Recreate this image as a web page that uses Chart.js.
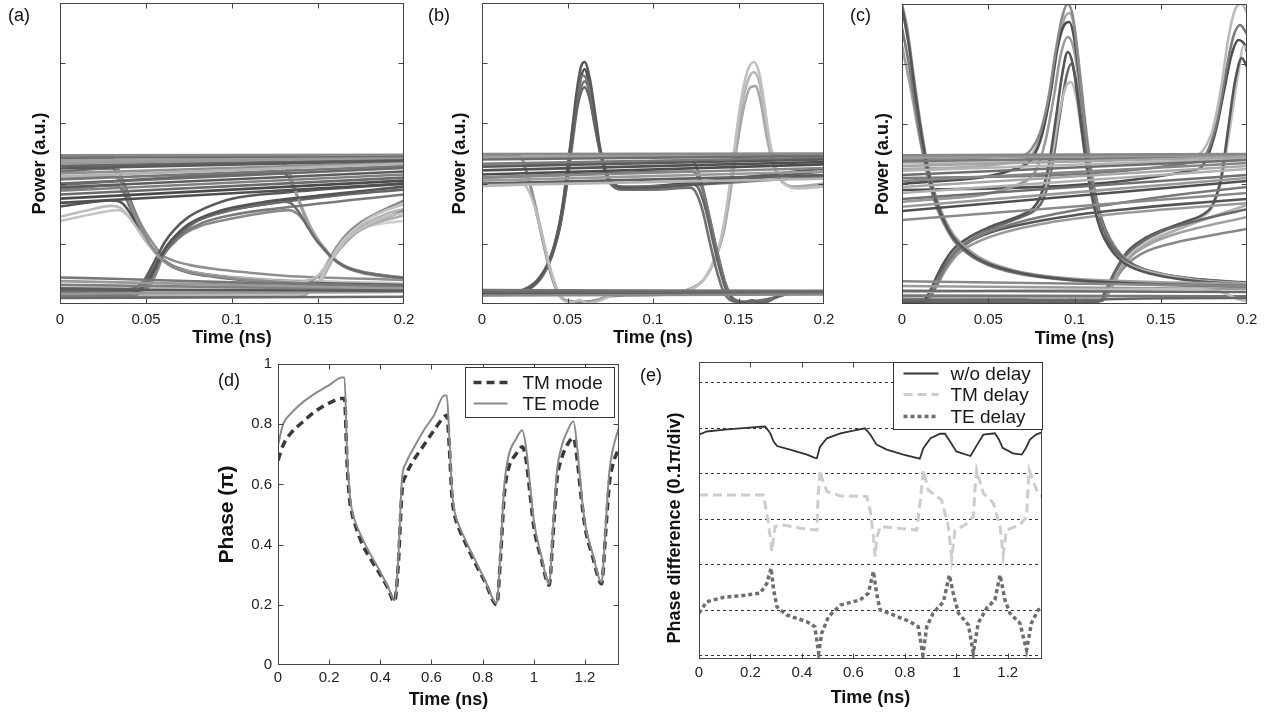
<!DOCTYPE html>
<html><head><meta charset="utf-8">
<script src="https://cdn.jsdelivr.net/npm/chart.js@4.4.0/dist/chart.umd.min.js"></script>
<style>
body{margin:0;background:#fff;width:1270px;height:716px;overflow:hidden;position:relative;font-family:"Liberation Sans",Arial,sans-serif}
canvas{position:absolute;left:0;top:0}
.lbl{position:absolute;font-size:18px;color:#111;line-height:20px}
</style></head><body>
<canvas id="cA" width="1270" height="716"></canvas>
<canvas id="cB" width="1270" height="716"></canvas>
<canvas id="cC" width="1270" height="716"></canvas>
<canvas id="cD" width="1270" height="716"></canvas>
<canvas id="cE" width="1270" height="716"></canvas>
<div class="lbl" style="left:8px;top:5px">(a)</div>
<div class="lbl" style="left:428px;top:5px">(b)</div>
<div class="lbl" style="left:850px;top:5px">(c)</div>
<div class="lbl" style="left:218px;top:370px">(d)</div>
<div class="lbl" style="left:640px;top:365px">(e)</div>
<script>
// ---------------- tick labels ----------------
const eyeTimeTicks = [0, 0.05, 0.1, 0.15, 0.2];
const eyePowerTicks = [1, 2, 3, 4];
const phaseTimeTicks = [0, 0.2, 0.4, 0.6, 0.8, 1, 1.2];
const phaseTicks = [0, 0.2, 0.4, 0.6, 0.8, 1];
const diffGridLines = [0, 1, 2, 3, 4, 5, 6];

// ---------------- (a) eye diagram traces [time ns, power a.u.] ----------------
const a01 = [[0,2.47],[0.2,2.48]];
const a02 = [[0,2.43],[0.2,2.46]];
const a03 = [[0,2.34],[0.2,2.43]];
const a04 = [[0,2.25],[0.2,2.38]];
const a05 = [[0,2.12],[0.2,2.33]];
const a06 = [[0,2.0],[0.2,2.26]];
const a07 = [[0,1.75],[0.2,2.05]];
const a08 = [[0,1.88],[0.2,2.15]];
const a09 = [[0,2.47],[0.027,2.47],[0.031,2.4],[0.035,2.15],[0.04,1.75],[0.045,1.38],[0.05,1.1],[0.054,0.92],[0.058,0.78],[0.065,0.63],[0.075,0.53],[0.09,0.46],[0.11,0.4],[0.13,0.36],[0.16,0.32],[0.2,0.29]];
const a10 = [[0,1.45],[0.015,1.55],[0.03,1.63],[0.035,1.6],[0.04,1.45],[0.045,1.25],[0.05,1.04],[0.054,0.9],[0.058,0.77],[0.065,0.63],[0.075,0.54],[0.09,0.47],[0.11,0.42],[0.13,0.38],[0.14,0.37],[0.145,0.4],[0.15,0.47],[0.155,0.62],[0.16,0.84],[0.165,1.02],[0.17,1.16],[0.18,1.33],[0.19,1.45],[0.2,1.52]];
const a11 = [[0,2.2],[0.03,2.25],[0.034,2.18],[0.038,1.95],[0.043,1.55],[0.048,1.2],[0.053,0.95],[0.058,0.77],[0.065,0.62],[0.075,0.52],[0.09,0.45],[0.11,0.39],[0.13,0.35],[0.2,0.28]];
const a12 = [[0,1.62],[0.03,1.72],[0.036,1.68],[0.041,1.5],[0.046,1.25],[0.051,1.02],[0.055,0.88],[0.058,0.78],[0.065,0.64],[0.075,0.54],[0.09,0.47],[0.11,0.41],[0.13,0.37],[0.2,0.31]];
const a13 = [[0,0.17],[0.04,0.17],[0.045,0.21],[0.05,0.33],[0.054,0.52],[0.058,0.76],[0.062,0.96],[0.067,1.13],[0.075,1.33],[0.085,1.47],[0.1,1.6],[0.12,1.7],[0.14,1.77],[0.17,1.86],[0.2,1.95]];
const a14 = [[0,0.2],[0.041,0.2],[0.046,0.25],[0.051,0.38],[0.055,0.58],[0.059,0.8],[0.064,0.99],[0.07,1.17],[0.08,1.38],[0.1,1.56],[0.12,1.66],[0.13,1.7],[0.134,1.68],[0.139,1.52],[0.144,1.28],[0.149,1.06],[0.154,0.9],[0.158,0.77],[0.165,0.63],[0.175,0.53],[0.19,0.46],[0.2,0.43]];
const a15 = [[0,0.14],[0.042,0.14],[0.047,0.2],[0.052,0.36],[0.056,0.58],[0.06,0.82],[0.065,1.0],[0.072,1.18],[0.082,1.34],[0.1,1.48],[0.13,1.6],[0.2,1.82]];
const a16 = [[0,2.45],[0.125,2.47],[0.129,2.42],[0.133,2.2],[0.138,1.8],[0.143,1.4],[0.148,1.12],[0.153,0.92],[0.158,0.77],[0.165,0.62],[0.175,0.52],[0.19,0.45],[0.2,0.42]];
const a17 = [[0,0.16],[0.14,0.16],[0.145,0.21],[0.15,0.34],[0.154,0.55],[0.158,0.77],[0.162,0.96],[0.167,1.13],[0.175,1.33],[0.185,1.5],[0.2,1.66]];
const a18 = [[0,0.22],[0.142,0.2],[0.147,0.26],[0.152,0.4],[0.156,0.6],[0.16,0.82],[0.165,1.0],[0.172,1.18],[0.182,1.33],[0.2,1.47]];
const a19 = [[0,0.13],[0.139,0.13],[0.144,0.18],[0.149,0.3],[0.153,0.5],[0.157,0.74],[0.161,0.95],[0.166,1.14],[0.175,1.36],[0.185,1.52],[0.2,1.72]];
const a20 = [[0,0.44],[0.03,0.42],[0.1,0.36],[0.2,0.3]];
const a21 = [[0,0.24],[0.2,0.22]];
const a22 = [[0,0.1],[0.2,0.12]];
const a23 = [[0,0.38],[0.2,0.26]];
const a24 = [[0,2.45],[0.2,2.47]];
const a25 = [[0,2.38],[0.2,2.44]];
const a26 = [[0,2.29],[0.2,2.4]];
const a27 = [[0,2.17],[0.2,2.35]];
const a28 = [[0,2.07],[0.2,2.29]];
const a29 = [[0,1.94],[0.2,2.2]];
const a30 = [[0,1.82],[0.2,2.1]];
const a31 = [[0,1.68],[0.2,2.0]];
const a32 = [[0,2.4],[0.029,2.42],[0.033,2.3],[0.037,2.02],[0.042,1.62],[0.047,1.27],[0.052,1.0],[0.056,0.85],[0.059,0.76],[0.066,0.62],[0.076,0.52],[0.09,0.46],[0.11,0.41],[0.13,0.37],[0.2,0.32]];
const a33 = [[0,1.9],[0.032,1.97],[0.036,1.9],[0.04,1.65],[0.045,1.32],[0.05,1.06],[0.055,0.88],[0.058,0.78],[0.065,0.63],[0.075,0.54],[0.09,0.47],[0.11,0.42],[0.13,0.38],[0.14,0.37],[0.145,0.39],[0.15,0.46],[0.155,0.6],[0.16,0.82],[0.166,1.02],[0.173,1.2],[0.185,1.38],[0.2,1.55]];
const a34 = [[0,1.38],[0.02,1.5],[0.034,1.56],[0.039,1.48],[0.044,1.3],[0.049,1.08],[0.054,0.9],[0.058,0.77],[0.065,0.64],[0.075,0.55],[0.09,0.48],[0.12,0.41],[0.2,0.34]];
const a35 = [[0,0.26],[0.04,0.25],[0.045,0.29],[0.05,0.4],[0.054,0.57],[0.058,0.78],[0.063,0.98],[0.069,1.16],[0.078,1.36],[0.09,1.5],[0.11,1.62],[0.13,1.7],[0.16,1.8],[0.2,1.9]];
const a36 = [[0,0.12],[0.043,0.12],[0.048,0.18],[0.053,0.34],[0.057,0.58],[0.06,0.8],[0.065,0.98],[0.072,1.16],[0.082,1.3],[0.1,1.42],[0.12,1.52],[0.133,1.56],[0.138,1.5],[0.143,1.34],[0.148,1.12],[0.153,0.93],[0.158,0.78],[0.165,0.64],[0.175,0.54],[0.19,0.47],[0.2,0.44]];
const a37 = [[0,2.3],[0.127,2.36],[0.131,2.28],[0.135,2.02],[0.14,1.65],[0.145,1.32],[0.15,1.07],[0.155,0.89],[0.158,0.78],[0.165,0.63],[0.175,0.53],[0.19,0.46],[0.2,0.43]];
const a38 = [[0,1.98],[0.129,2.18],[0.133,2.1],[0.137,1.85],[0.142,1.5],[0.147,1.2],[0.152,0.97],[0.157,0.8],[0.165,0.63],[0.175,0.54],[0.19,0.47],[0.2,0.44]];
const a39 = [[0,0.19],[0.141,0.18],[0.146,0.24],[0.151,0.38],[0.155,0.58],[0.159,0.8],[0.163,0.98],[0.169,1.16],[0.178,1.34],[0.19,1.5],[0.2,1.58]];
const a40 = [[0,0.28],[0.138,0.27],[0.143,0.3],[0.148,0.4],[0.153,0.58],[0.157,0.78],[0.161,0.96],[0.167,1.12],[0.176,1.26],[0.188,1.34],[0.2,1.38]];
const a41 = [[0,0.32],[0.2,0.24]];
const a42 = [[0,0.17],[0.2,0.2]];
const a43 = [[0,0.22],[0.039,0.22],[0.044,0.27],[0.049,0.4],[0.053,0.6],[0.057,0.82],[0.061,1.03],[0.066,1.22],[0.074,1.43],[0.085,1.6],[0.1,1.75],[0.13,1.85],[0.2,2.0]];
const a44 = [[0,2.1],[0.03,2.13],[0.035,2.05],[0.04,1.78],[0.045,1.45],[0.05,1.18],[0.055,0.97],[0.059,0.82],[0.066,0.72],[0.075,0.65],[0.09,0.58],[0.11,0.52],[0.13,0.47],[0.2,0.4]];
const eyeA = [a01,a02,a03,a04,a05,a06,a07,a08,a24,a25,a26,a27,a28,a29,a30,a31,a20,a21,a22,a23,a41,a42,a09,a10,a11,a12,a13,a14,a15,a16,a17,a18,a19,a32,a33,a34,a35,a36,a37,a38,a39,a40,a43,a44];
const eyeAShade = ['#8a8a8a','#6e6e6e','#9a9a9a','#5a5a5a','#b4b4b4','#6a6a6a','#4a4a4a','#808080','#7c7c7c','#a0a0a0','#666666','#909090','#777777','#5c5c5c','#6a6a6a','#505050','#777777','#5a5a5a','#6a6a6a','#999999','#808080','#9a9a9a','#8c8c8c','#bdbdbd','#6f6f6f','#555555','#555555','#6c6c6c','#7a7a7a','#9d9d9d','#c2c2c2','#adadad','#888888','#9a9a9a','#777777','#c4c4c4','#666666','#8a8a8a','#aaaaaa','#6e6e6e','#b5b5b5','#cfcfcf','#5a5a5a','#8f8f8f'];

// ---------------- (b) eye diagram traces ----------------
const b01 = [[0,2.49],[0.2,2.5]];
const b02 = [[0,2.4],[0.2,2.46]];
const b03 = [[0,2.28],[0.2,2.4]];
const b04 = [[0,2.15],[0.2,2.32]];
const b05 = [[0,2.05],[0.2,2.2]];
const b06 = [[0,1.97],[0.2,2.08]];
const b07 = [[0,1.96],[0.024,1.98],[0.027,1.9],[0.031,1.6],[0.035,1.15],[0.039,0.68],[0.043,0.3],[0.047,0.08],[0.052,0.03],[0.057,0.06],[0.062,0.02],[0.068,0.05],[0.074,0.12],[0.08,0.17],[0.2,0.19]];
const b08 = [[0,2.45],[0.021,2.47],[0.024,2.38],[0.028,2.0],[0.032,1.5],[0.036,0.98],[0.04,0.52],[0.044,0.2],[0.048,0.07],[0.055,0.04],[0.065,0.05],[0.075,0.13],[0.2,0.17]];
const b09 = [[0,0.15],[0.015,0.16],[0.025,0.22],[0.033,0.4],[0.039,0.7],[0.044,1.15],[0.048,1.8],[0.052,2.7],[0.055,3.45],[0.058,3.95],[0.06,4.02],[0.063,3.75],[0.066,3.2],[0.069,2.6],[0.073,2.15],[0.078,1.98],[0.085,1.93],[0.2,2.2]];
const b10 = [[0,0.18],[0.015,0.19],[0.025,0.25],[0.033,0.42],[0.04,0.75],[0.045,1.2],[0.049,1.85],[0.053,2.7],[0.056,3.3],[0.06,3.6],[0.063,3.4],[0.066,2.95],[0.07,2.4],[0.074,2.05],[0.08,1.92],[0.1,1.93],[0.124,1.98],[0.127,1.9],[0.131,1.55],[0.135,1.05],[0.139,0.58],[0.143,0.22],[0.147,0.07],[0.153,0.03],[0.158,0.06],[0.163,0.02],[0.168,0.05],[0.174,0.14],[0.18,0.18],[0.2,0.19]];
const b11 = [[0,0.2],[0.02,0.21],[0.03,0.3],[0.037,0.55],[0.042,0.95],[0.047,1.6],[0.051,2.5],[0.055,3.3],[0.059,3.8],[0.062,3.65],[0.065,3.15],[0.069,2.55],[0.073,2.12],[0.078,1.96],[0.09,1.95],[0.2,2.12]];
const b12 = [[0,2.3],[0.122,2.38],[0.125,2.3],[0.129,1.95],[0.133,1.45],[0.137,0.92],[0.141,0.45],[0.145,0.15],[0.149,0.05],[0.156,0.03],[0.162,0.05],[0.17,0.1],[0.178,0.17],[0.2,0.18]];
const b13 = [[0,0.17],[0.11,0.18],[0.12,0.22],[0.128,0.35],[0.134,0.62],[0.139,1.0],[0.143,1.6],[0.147,2.45],[0.151,3.3],[0.155,3.85],[0.159,4.02],[0.162,3.85],[0.165,3.35],[0.168,2.75],[0.172,2.25],[0.177,2.0],[0.185,1.92],[0.2,1.95]];
const b14 = [[0,0.19],[0.112,0.2],[0.122,0.26],[0.13,0.42],[0.136,0.72],[0.141,1.15],[0.145,1.8],[0.149,2.6],[0.153,3.25],[0.157,3.6],[0.16,3.62],[0.163,3.35],[0.166,2.85],[0.17,2.35],[0.175,2.05],[0.182,1.95],[0.2,2.0]];
const b15 = [[0,0.2],[0.2,0.2]];
const b16 = [[0,0.14],[0.2,0.16]];
const b17 = [[0,2.44],[0.2,2.48]];
const b18 = [[0,2.33],[0.2,2.43]];
const b19 = [[0,2.22],[0.2,2.36]];
const b20 = [[0,2.1],[0.2,2.26]];
const b21 = [[0,2.0],[0.2,2.14]];
const b22 = [[0,0.17],[0.017,0.18],[0.027,0.24],[0.035,0.45],[0.041,0.8],[0.046,1.35],[0.05,2.1],[0.054,3.05],[0.057,3.65],[0.06,3.9],[0.063,3.6],[0.066,3.05],[0.07,2.45],[0.074,2.08],[0.08,1.94],[0.1,1.96],[0.2,2.25]];
const b23 = [[0,0.16],[0.016,0.17],[0.026,0.23],[0.034,0.43],[0.04,0.76],[0.045,1.25],[0.049,1.95],[0.053,2.85],[0.057,3.5],[0.06,3.7],[0.063,3.5],[0.066,3.0],[0.07,2.42],[0.075,2.02],[0.082,1.9],[0.1,1.9],[0.122,1.93],[0.125,1.86],[0.129,1.55],[0.133,1.05],[0.137,0.58],[0.141,0.22],[0.145,0.07],[0.152,0.03],[0.16,0.05],[0.17,0.1],[0.18,0.17],[0.2,0.18]];
const b24 = [[0,2.3],[0.022,2.33],[0.025,2.25],[0.029,1.9],[0.033,1.42],[0.037,0.92],[0.041,0.48],[0.045,0.17],[0.049,0.06],[0.056,0.03],[0.064,0.05],[0.074,0.12],[0.08,0.17],[0.2,0.18]];
const b25 = [[0,0.18],[0.111,0.19],[0.121,0.24],[0.129,0.38],[0.135,0.67],[0.14,1.08],[0.144,1.7],[0.148,2.55],[0.152,3.3],[0.156,3.75],[0.159,3.85],[0.162,3.7],[0.165,3.25],[0.168,2.7],[0.172,2.22],[0.177,2.0],[0.185,1.94],[0.2,1.97]];
const b26 = [[0,2.1],[0.123,2.2],[0.126,2.12],[0.13,1.8],[0.134,1.32],[0.138,0.82],[0.142,0.38],[0.146,0.12],[0.15,0.05],[0.157,0.03],[0.165,0.05],[0.174,0.13],[0.18,0.17],[0.2,0.18]];
const b27 = [[0,0.23],[0.2,0.22]];
const b28 = [[0,0.17],[0.2,0.19]];
const eyeB = [b01,b02,b03,b04,b05,b06,b17,b18,b19,b20,b21,b15,b16,b27,b28,b07,b08,b24,b09,b10,b11,b22,b23,b12,b26,b13,b14,b25];
const eyeBShade = ['#8a8a8a','#6e6e6e','#5a5a5a','#4d4d4d','#9a9a9a','#b5b5b5','#a0a0a0','#7a7a7a','#505050','#888888','#606060','#6a6a6a','#8a8a8a','#777777','#555555','#bcbcbc','#8d8d8d','#a5a5a5','#5a5a5a','#666666','#777777','#4f4f4f','#727272','#7a7a7a','#6a6a6a','#c0c0c0','#a8a8a8','#b5b5b5'];

// ---------------- (c) eye diagram traces ----------------
const c01 = [[0,4.95],[0.004,4.3],[0.008,3.45],[0.012,2.7],[0.016,2.1],[0.02,1.7],[0.025,1.35],[0.03,1.1],[0.04,0.83],[0.05,0.67],[0.065,0.54],[0.08,0.46],[0.1,0.4],[0.13,0.35],[0.16,0.32],[0.2,0.3]];
const c02 = [[0,4.6],[0.004,4.0],[0.008,3.25],[0.012,2.55],[0.016,2.0],[0.02,1.62],[0.025,1.3],[0.03,1.06],[0.04,0.8],[0.05,0.65],[0.065,0.52],[0.08,0.45],[0.1,0.39],[0.13,0.34],[0.2,0.28]];
const c03 = [[0,4.3],[0.005,3.6],[0.01,2.8],[0.015,2.15],[0.02,1.72],[0.025,1.4],[0.03,1.15],[0.04,0.87],[0.05,0.7],[0.065,0.56],[0.08,0.48],[0.1,0.42],[0.2,0.33]];
const c04 = [[0,0.05],[0.012,0.05],[0.016,0.2],[0.02,0.45],[0.025,0.72],[0.03,0.92],[0.04,1.13],[0.05,1.27],[0.06,1.38],[0.07,1.49],[0.076,1.6],[0.08,1.78],[0.085,2.3],[0.089,3.05],[0.093,3.85],[0.096,4.2],[0.099,4.0],[0.102,3.4],[0.106,2.5],[0.11,1.8],[0.115,1.25],[0.122,0.88],[0.13,0.66],[0.145,0.5],[0.165,0.4],[0.2,0.32]];
const c05 = [[0,0.08],[0.015,0.08],[0.019,0.25],[0.024,0.55],[0.03,0.82],[0.04,1.05],[0.05,1.2],[0.07,1.38],[0.1,1.56],[0.13,1.7],[0.16,1.82],[0.2,1.95]];
const c06 = [[0,0.1],[0.014,0.1],[0.018,0.3],[0.023,0.62],[0.03,0.9],[0.04,1.12],[0.05,1.27],[0.06,1.38],[0.07,1.5],[0.077,1.62],[0.082,1.85],[0.087,2.45],[0.091,3.15],[0.095,3.62],[0.098,3.7],[0.101,3.45],[0.105,2.7],[0.109,1.95],[0.114,1.35],[0.12,0.95],[0.13,0.68],[0.145,0.52],[0.17,0.4],[0.2,0.34]];
const c07 = [[0,2.42],[0.07,2.48],[0.075,2.58],[0.08,2.85],[0.085,3.45],[0.089,4.2],[0.093,4.8],[0.096,5.0],[0.099,4.8],[0.102,4.1],[0.106,3.0],[0.11,2.1],[0.115,1.45],[0.121,1.02],[0.13,0.72],[0.145,0.54],[0.165,0.43],[0.2,0.34]];
const c08 = [[0,2.0],[0.07,2.3],[0.076,2.45],[0.081,2.8],[0.086,3.5],[0.09,4.25],[0.094,4.65],[0.097,4.7],[0.1,4.4],[0.104,3.5],[0.108,2.5],[0.113,1.7],[0.119,1.15],[0.127,0.8],[0.14,0.58],[0.16,0.45],[0.2,0.35]];
const c09 = [[0,1.7],[0.072,2.05],[0.078,2.25],[0.083,2.7],[0.088,3.45],[0.092,4.15],[0.096,4.45],[0.1,4.2],[0.104,3.35],[0.108,2.4],[0.113,1.65],[0.12,1.1],[0.128,0.78],[0.14,0.58],[0.16,0.45],[0.2,0.36]];
const c10 = [[0,2.48],[0.2,2.5]];
const c11 = [[0,2.3],[0.2,2.45]];
const c12 = [[0,2.15],[0.2,2.4]];
const c13 = [[0,1.85],[0.2,2.25]];
const c14 = [[0,1.55],[0.2,2.05]];
const c15 = [[0,1.4],[0.2,1.85]];
const c16 = [[0,0.06],[0.115,0.06],[0.119,0.25],[0.124,0.55],[0.13,0.82],[0.14,1.05],[0.15,1.2],[0.17,1.38],[0.2,1.58]];
const c17 = [[0,0.08],[0.117,0.08],[0.121,0.28],[0.126,0.55],[0.133,0.8],[0.145,1.02],[0.16,1.18],[0.2,1.45]];
const c18 = [[0,0.04],[0.114,0.04],[0.118,0.22],[0.123,0.52],[0.13,0.85],[0.14,1.08],[0.15,1.22],[0.165,1.38],[0.175,1.5],[0.18,1.65],[0.185,2.1],[0.189,2.9],[0.193,3.7],[0.197,4.1],[0.2,3.95]];
const c19 = [[0,2.35],[0.17,2.48],[0.175,2.58],[0.18,2.9],[0.185,3.6],[0.189,4.4],[0.193,4.9],[0.197,5.0],[0.2,4.85]];
const c20 = [[0,2.1],[0.172,2.38],[0.178,2.6],[0.183,3.1],[0.188,3.9],[0.192,4.45],[0.196,4.65],[0.2,4.5]];
const c21 = [[0,0.09],[0.116,0.09],[0.12,0.28],[0.126,0.6],[0.134,0.88],[0.145,1.08],[0.16,1.25],[0.174,1.45],[0.18,1.62],[0.185,2.05],[0.19,2.9],[0.195,3.85],[0.198,4.3],[0.2,4.25]];
const c22 = [[0,0.38],[0.2,0.3]];
const c23 = [[0,0.22],[0.2,0.2]];
const c24 = [[0,0.06],[0.07,0.07],[0.078,0.05],[0.083,0.02],[0.088,0.06],[0.093,0.02],[0.098,0.07],[0.103,0.02],[0.108,0.06],[0.113,0.04],[0.118,0.08],[0.2,0.1]];
const c25 = [[0,0.2],[0.17,0.25],[0.185,0.2],[0.195,0.08],[0.2,0.05]];
const c26 = [[0,2.44],[0.2,2.48]];
const c27 = [[0,2.38],[0.2,2.46]];
const c28 = [[0,2.22],[0.2,2.42]];
const c29 = [[0,2.05],[0.2,2.35]];
const c30 = [[0,1.95],[0.2,2.3]];
const c31 = [[0,1.75],[0.2,2.15]];
const c32 = [[0,1.62],[0.2,2.1]];
const c33 = [[0,0.03],[0.013,0.03],[0.017,0.22],[0.022,0.5],[0.028,0.78],[0.038,1.02],[0.05,1.18],[0.07,1.33],[0.1,1.48],[0.13,1.58],[0.16,1.66],[0.2,1.75]];
const c34 = [[0,0.12],[0.016,0.12],[0.02,0.3],[0.026,0.6],[0.033,0.85],[0.045,1.05],[0.06,1.2],[0.08,1.33],[0.1,1.42],[0.13,1.52],[0.2,1.68]];
const c35 = [[0,2.25],[0.071,2.4],[0.076,2.52],[0.081,2.85],[0.086,3.5],[0.09,4.25],[0.094,4.75],[0.097,4.85],[0.1,4.6],[0.103,3.9],[0.107,2.85],[0.111,2.0],[0.116,1.4],[0.123,0.98],[0.132,0.7],[0.148,0.52],[0.17,0.42],[0.2,0.34]];
const c36 = [[0,0.07],[0.013,0.07],[0.017,0.25],[0.021,0.5],[0.027,0.78],[0.035,1.0],[0.045,1.18],[0.06,1.35],[0.07,1.46],[0.077,1.56],[0.082,1.75],[0.087,2.3],[0.091,3.05],[0.095,3.75],[0.098,4.0],[0.101,3.7],[0.104,3.05],[0.108,2.25],[0.113,1.55],[0.119,1.08],[0.128,0.76],[0.14,0.56],[0.16,0.44],[0.2,0.33]];
const c37 = [[0,5.0],[0.003,4.6],[0.007,3.75],[0.011,2.95],[0.015,2.3],[0.019,1.85],[0.024,1.45],[0.03,1.13],[0.04,0.85],[0.05,0.69],[0.065,0.55],[0.08,0.47],[0.1,0.41],[0.13,0.36],[0.2,0.31]];
const c38 = [[0,0.05],[0.116,0.05],[0.12,0.24],[0.125,0.48],[0.132,0.7],[0.142,0.88],[0.155,1.0],[0.175,1.12],[0.2,1.25]];
const c39 = [[0,0.11],[0.118,0.11],[0.122,0.3],[0.128,0.6],[0.135,0.86],[0.147,1.08],[0.165,1.3],[0.2,1.65]];
const c40 = [[0,1.9],[0.172,2.25],[0.177,2.45],[0.182,2.9],[0.187,3.6],[0.191,4.15],[0.195,4.4],[0.199,4.3],[0.2,4.2]];
const c41 = [[0,0.3],[0.2,0.25]];
const c42 = [[0,0.14],[0.2,0.13]];
const eyeC = [c10,c11,c12,c13,c14,c15,c26,c27,c28,c29,c30,c31,c32,c22,c23,c24,c25,c41,c42,c01,c02,c03,c37,c04,c05,c06,c33,c34,c36,c07,c08,c09,c35,c16,c17,c38,c39,c18,c19,c20,c21,c40];
const eyeCShade = ['#888888','#a5a5a5','#6e6e6e','#b0b0b0','#4f4f4f','#8a8a8a','#999999','#777777','#b5b5b5','#858585','#a8a8a8','#707070','#9a9a9a','#888888','#6a6a6a','#666666','#bdbdbd','#9a9a9a','#777777','#555555','#7a7a7a','#9e9e9e','#8d8d8d','#555555','#7a7a7a','#b8b8b8','#555555','#9a9a9a','#666666','#8a8a8a','#4d4d4d','#999999','#a9a9a9','#6a6a6a','#a0a0a0','#888888','#b0b0b0','#555555','#bababa','#7a7a7a','#c2c2c2','#4d4d4d'];

// ---------------- (d) phase (pi) ----------------
const phaseTime = [0,0.02,0.05,0.1,0.15,0.2,0.25,0.26,0.27,0.28,0.29,0.3,0.33,0.36,0.4,0.43,0.455,0.47,0.485,0.5,0.53,0.57,0.61,0.65,0.66,0.67,0.68,0.69,0.7,0.73,0.77,0.81,0.855,0.87,0.885,0.9,0.93,0.955,0.97,0.985,1.0,1.03,1.06,1.075,1.09,1.11,1.13,1.155,1.17,1.185,1.2,1.23,1.265,1.28,1.295,1.31,1.333];
const teMode = [0.73,0.80,0.835,0.875,0.905,0.93,0.955,0.955,0.70,0.57,0.51,0.48,0.42,0.37,0.31,0.26,0.215,0.35,0.62,0.67,0.72,0.78,0.83,0.895,0.895,0.75,0.58,0.51,0.48,0.42,0.35,0.28,0.205,0.38,0.6,0.69,0.75,0.78,0.72,0.6,0.48,0.36,0.27,0.45,0.64,0.73,0.775,0.81,0.72,0.58,0.47,0.37,0.275,0.45,0.64,0.72,0.79];
const tmMode = [0.68,0.73,0.77,0.81,0.845,0.87,0.885,0.885,0.67,0.55,0.5,0.47,0.40,0.355,0.30,0.255,0.21,0.33,0.58,0.63,0.68,0.73,0.78,0.825,0.83,0.72,0.56,0.5,0.47,0.41,0.34,0.275,0.2,0.36,0.57,0.65,0.70,0.725,0.68,0.57,0.46,0.35,0.265,0.43,0.61,0.69,0.73,0.755,0.68,0.56,0.46,0.36,0.27,0.43,0.6,0.67,0.72];

// ---------------- (e) phase difference (0.1 pi / div) ----------------
const noDelay = [[0,4.85],[0.03,4.92],[0.1,4.96],[0.16,4.99],[0.23,5.02],[0.257,5.03],[0.277,4.88],[0.29,4.7],[0.303,4.6],[0.354,4.52],[0.42,4.41],[0.45,4.34],[0.458,4.33],[0.47,4.58],[0.497,4.77],[0.55,4.88],[0.6,4.94],[0.645,4.99],[0.665,4.86],[0.69,4.63],[0.73,4.52],[0.794,4.41],[0.858,4.32],[0.872,4.55],[0.9,4.77],[0.937,4.87],[0.956,4.87],[0.98,4.66],[1.0,4.48],[1.055,4.38],[1.08,4.62],[1.105,4.85],[1.15,4.88],[1.165,4.75],[1.18,4.56],[1.22,4.44],[1.254,4.41],[1.27,4.55],[1.286,4.74],[1.31,4.85],[1.333,4.9]];
const tmDelay = [[0,3.52],[0.25,3.52],[0.264,3.12],[0.277,2.6],[0.283,2.28],[0.29,2.6],[0.296,2.83],[0.33,2.86],[0.393,2.79],[0.458,2.75],[0.463,3.5],[0.47,4.07],[0.48,3.85],[0.497,3.6],[0.55,3.5],[0.652,3.49],[0.665,3.19],[0.678,2.6],[0.684,2.17],[0.692,2.6],[0.704,2.83],[0.755,2.8],[0.846,2.75],[0.86,3.4],[0.872,4.07],[0.891,3.63],[0.943,3.41],[0.969,2.83],[0.982,2.13],[0.995,2.75],[1.034,2.86],[1.066,3.05],[1.072,3.6],[1.079,4.07],[1.105,3.56],[1.144,3.34],[1.17,2.83],[1.182,2.2],[1.195,2.75],[1.247,2.86],[1.273,3.05],[1.278,3.6],[1.283,4.07],[1.312,3.63],[1.333,3.49]];
const teDelay = [[0,0.92],[0.03,1.17],[0.096,1.27],[0.16,1.3],[0.238,1.36],[0.264,1.58],[0.28,1.91],[0.29,1.43],[0.303,1.06],[0.34,0.88],[0.42,0.73],[0.45,0.62],[0.465,0.04],[0.477,0.48],[0.503,0.84],[0.55,1.1],[0.626,1.21],[0.658,1.36],[0.678,1.84],[0.69,1.36],[0.704,0.99],[0.755,0.88],[0.82,0.73],[0.852,0.62],[0.87,0.0],[0.885,0.62],[0.91,0.92],[0.95,1.17],[0.973,1.76],[0.988,1.36],[1.008,0.92],[1.047,0.66],[1.066,0.04],[1.085,0.7],[1.118,1.03],[1.15,1.21],[1.17,1.76],[1.189,1.21],[1.208,0.92],[1.247,0.7],[1.273,0.11],[1.292,0.7],[1.318,0.99],[1.333,1.03]];

// ---------------- rendering ----------------
const FONT = '"Liberation Sans", Arial, Helvetica, sans-serif';
Chart.defaults.font.family = FONT;
const pts = arr => arr.map(p => ({x: p[0], y: p[1]}));
const zip = (xs, ys) => xs.map((x, i) => ({x, y: ys[i]}));
const fmt = v => String(Math.round(v * 1000) / 1000);

function framePlugin(f) {
  return {
    id: 'frame',
    beforeDatasetsDraw(chart) {
      if (!f.grid) return;
      const {ctx, chartArea: a, scales: {y}} = chart;
      ctx.save();
      ctx.strokeStyle = '#333'; ctx.lineWidth = 1; ctx.setLineDash([3, 3]);
      f.grid.forEach(v => {
        const py = Math.round(y.getPixelForValue(v)) + 0.5;
        ctx.beginPath(); ctx.moveTo(a.left, py); ctx.lineTo(a.right, py); ctx.stroke();
      });
      ctx.restore();
    },
    afterDatasetsDraw(chart) {
      const {ctx, chartArea: a, scales: {x, y}} = chart;
      ctx.save();
      ctx.strokeStyle = '#444'; ctx.lineWidth = 1; ctx.setLineDash([]);
      const L = Math.round(a.left) + 0.5, R = Math.round(a.right) - 0.5;
      const T = Math.round(a.top) + 0.5, B = Math.round(a.bottom) - 0.5;
      ctx.strokeRect(L, T, R - L, B - T);
      const tl = 5;
      ctx.beginPath();
      (f.xTicks || []).forEach(v => {
        const px = Math.round(x.getPixelForValue(v)) + 0.5;
        ctx.moveTo(px, B); ctx.lineTo(px, B - tl);
        ctx.moveTo(px, T); ctx.lineTo(px, T + tl);
      });
      (f.yTicks || []).forEach(v => {
        const py = Math.round(y.getPixelForValue(v)) + 0.5;
        ctx.moveTo(L, py); ctx.lineTo(L + tl, py);
        ctx.moveTo(R, py); ctx.lineTo(R - tl, py);
      });
      ctx.stroke();
      ctx.restore();
    },
    afterDraw(chart) {
      const lg = f.legend;
      if (!lg) return;
      const {ctx, chartArea: a} = chart;
      ctx.save();
      const bx = Math.round(a.right - lg.right - lg.w) + 0.5, by = Math.round(a.top + lg.top) + 0.5;
      ctx.fillStyle = '#fff'; ctx.fillRect(bx, by, lg.w, lg.h);
      ctx.strokeStyle = '#333'; ctx.lineWidth = 1; ctx.strokeRect(bx, by, lg.w, lg.h);
      lg.rows.forEach(r => {
        const yy = by + r.dy;
        ctx.strokeStyle = r.color; ctx.lineWidth = r.width; ctx.setLineDash(r.dash);
        ctx.beginPath(); ctx.moveTo(bx + lg.s0, yy); ctx.lineTo(bx + lg.s1, yy); ctx.stroke();
        ctx.setLineDash([]);
        ctx.fillStyle = '#1a1a1a'; ctx.font = '19px ' + FONT; ctx.textBaseline = 'middle'; ctx.textAlign = 'left';
        ctx.fillText(r.text, bx + lg.tx, yy + 1);
      });
      ctx.restore();
    }
  };
}

function makeChart(id, datasets, c) {
  return new Chart(document.getElementById(id), {
    type: 'line',
    data: {datasets},
    options: {
      responsive: false, animation: false, events: [],
      layout: {padding: {left: c.L, right: c.R, top: c.T, bottom: c.B}},
      elements: {point: {radius: 0}},
      plugins: {legend: {display: false}, tooltip: {enabled: false}},
      scales: {
        x: {
          type: 'linear', min: c.xMin, max: c.xMax,
          afterBuildTicks: s => { s.ticks = c.xTicks.map(v => ({value: v})); },
          afterFit: s => { s.height = c.xH; },
          grid: {display: false, drawTicks: false}, border: {display: false},
          ticks: {padding: c.xPad, color: '#222', font: {size: 15}, maxRotation: 0, autoSkip: false, callback: v => fmt(v)},
          title: {display: true, text: 'Time (ns)', color: '#111', font: {size: 18, weight: 'bold'}, padding: 0}
        },
        y: {
          type: 'linear', min: c.yMin, max: c.yMax,
          afterBuildTicks: s => { s.ticks = c.yTicks.map(v => ({value: v})); },
          afterFit: s => { s.width = c.yW; },
          grid: {display: false, drawTicks: false}, border: {display: false},
          ticks: {display: !!c.yLabels, padding: 6, color: '#222', font: {size: 15}, autoSkip: false, callback: v => fmt(v)},
          title: {display: true, text: c.yTitle, color: '#111', font: {size: c.yTitleSize, weight: 'bold'}, padding: 0}
        }
      }
    },
    plugins: [framePlugin(c.frame)]
  });
}

function eyeSets(traces, shades) {
  return traces.map((t, i) => ({
    data: pts(t), borderColor: shades[i], borderWidth: 2.6,
    cubicInterpolationMode: 'monotone', fill: false
  }));
}

// (a) plot area 60..404 x 3..304  (trailing spaces shift the rotated title slightly downward, as in the original)
makeChart('cA', eyeSets(eyeA, eyeAShade), {
  L: 29.2, R: 866, T: 3, B: 367.2, xH: 44.8, yW: 30.8, xPad: 7,
  xMin: 0, xMax: 0.2, yMin: 0, yMax: 5, xTicks: eyeTimeTicks, yTicks: eyePowerTicks,
  yTitle: 'Power (a.u.)    ', yTitleSize: 18,
  frame: {xTicks: [0.05, 0.1, 0.15], yTicks: eyePowerTicks}
});
// (b) plot area 482..824
makeChart('cB', eyeSets(eyeB, eyeBShade), {
  L: 449.2, R: 446, T: 3, B: 367.2, xH: 44.8, yW: 32.8, xPad: 7,
  xMin: 0, xMax: 0.2, yMin: 0, yMax: 5, xTicks: eyeTimeTicks, yTicks: eyePowerTicks,
  yTitle: 'Power (a.u.)    ', yTitleSize: 18,
  frame: {xTicks: [0.05, 0.1, 0.15], yTicks: eyePowerTicks}
});
// (c) plot area 902..1247
makeChart('cC', eyeSets(eyeC, eyeCShade), {
  L: 872.2, R: 23, T: 4, B: 366.2, xH: 45.8, yW: 29.8, xPad: 7,
  xMin: 0, xMax: 0.2, yMin: 0, yMax: 5, xTicks: eyeTimeTicks, yTicks: eyePowerTicks,
  yTitle: 'Power (a.u.)    ', yTitleSize: 18,
  frame: {xTicks: [0.05, 0.1, 0.15], yTicks: eyePowerTicks}
});
// (d) plot area 278..619 x 364..665
makeChart('cD', [
  {label: 'TE mode', data: zip(phaseTime, teMode), borderColor: '#8a8a8a', borderWidth: 2, cubicInterpolationMode: 'monotone', fill: false},
  {label: 'TM mode', data: zip(phaseTime, tmMode), borderColor: '#3a3a3a', borderWidth: 3.5, borderDash: [8, 5], cubicInterpolationMode: 'monotone', fill: false}
], {
  L: 214.4, R: 651, T: 364, B: 5.2, xH: 45.8, yW: 63.6, xPad: 4,
  xMin: 0, xMax: 1.333, yMin: 0, yMax: 1, xTicks: phaseTimeTicks, yTicks: phaseTicks, yLabels: true,
  yTitle: 'Phase (π)', yTitleSize: 21,
  frame: {xTicks: [0.2, 0.4, 0.6, 0.8, 1, 1.2], yTicks: [0.2, 0.4, 0.6, 0.8],
    legend: {right: 5, top: 3, w: 149, h: 50, s0: 8, s1: 42, tx: 57, rows: [
      {text: 'TM mode', color: '#3a3a3a', width: 3.5, dash: [8, 5], dy: 15},
      {text: 'TE mode', color: '#8a8a8a', width: 2, dash: [], dy: 36}]}}
});
// (e) plot area 699..1042 x 362..659
makeChart('cE', [
  {label: 'w/o delay', data: pts(noDelay), borderColor: '#333333', borderWidth: 1.8, fill: false, tension: 0},
  {label: 'TM delay', data: pts(tmDelay), borderColor: '#cdcdcd', borderWidth: 3, borderDash: [9, 5], fill: false, tension: 0},
  {label: 'TE delay', data: pts(teDelay), borderColor: '#6e6e6e', borderWidth: 3.5, borderDash: [4, 3], fill: false, tension: 0}
], {
  L: 664.2, R: 228, T: 362, B: 6.9, xH: 50.1, yW: 34.8, xPad: 5,
  xMin: 0, xMax: 1.333, yMin: -0.09, yMax: 6.45, xTicks: phaseTimeTicks, yTicks: diffGridLines,
  yTitle: 'Phase difference (0.1π/div)       ', yTitleSize: 18,
  frame: {xTicks: [0.2, 0.4, 0.6, 0.8, 1, 1.2], yTicks: [], grid: diffGridLines,
    legend: {right: 0, top: 0, w: 149, h: 67, s0: 10, s1: 45, tx: 57, rows: [
      {text: 'w/o delay', color: '#333333', width: 1.8, dash: [], dy: 11},
      {text: 'TM delay', color: '#cdcdcd', width: 3, dash: [9, 5], dy: 32},
      {text: 'TE delay', color: '#6e6e6e', width: 3.5, dash: [4, 3], dy: 54}]}}
});
</script>
</body></html>
